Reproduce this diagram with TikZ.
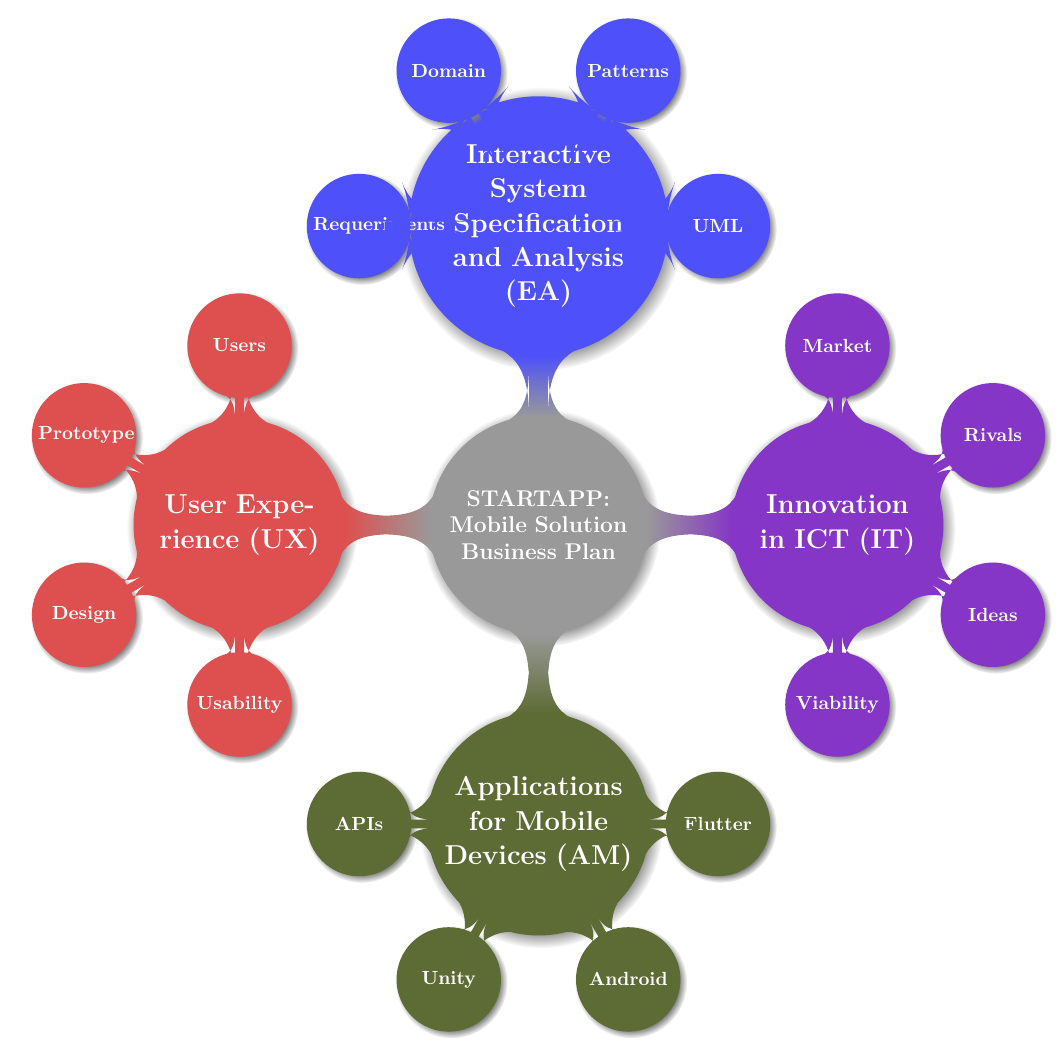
\documentclass[tikz,border=0pt]{standalone}
\usetikzlibrary{mindmap, shadows}
\definecolor{rootgray}{RGB}{153,153,153}
\definecolor{eablue}{RGB}{78,80,250}
\definecolor{itviolet}{RGB}{133,54,198}
\definecolor{amolive}{RGB}{93,107,52}
\definecolor{uxred}{RGB}{222,79,79}

\begin{document}
\begin{tikzpicture}[
    mindmap, text=white,
    % concept styles
    concept/.append style={circular drop shadow},
    root concept/.append style={
        concept color=rootgray, minimum size=4cm, text width=3.5cm,
        inner sep=0pt, font=\large\bfseries
    },
    level 1 concept/.append style={
        level distance=5.53cm, sibling angle=90, minimum size=3.88cm,
        text width=3.7cm, inner sep=0pt, font=\Large\bfseries
    },
    level 2 concept/.append style={
        level distance=3.32cm, sibling angle=60, minimum size=1.89cm,
        text width=1.7cm, inner sep=0pt, font=\normalsize\bfseries
    }
]
    \useasboundingbox (-9.961,-9.730) rectangle (9.721,9.712);

    \path[concept color=rootgray]
        node[concept, root concept] (root) {STARTAPP: Mobile Solution Business Plan}
        [clockwise from=90]
        % --- EA (top) ---
        child[concept color=eablue] {
            node[concept] (ea) {Interactive\\ System\\ Specification\\ and Analysis\\ (EA)}
            [clockwise from=180]
            child { node[concept] (ea_req) {Requeriments} }
            child { node[concept] (ea_dom) {Domain} }
            child { node[concept] (ea_pat) {Patterns} }
            child { node[concept] (ea_uml) {UML} }
        }
        % --- IT (right) ---
        child[concept color=itviolet] {
            node[concept] (it) {Innovation in ICT (IT)}
            [clockwise from=90]
            child { node[concept] (it_mkt) {Market} }
            child { node[concept] (it_riv) {Rivals} }
            child { node[concept] (it_ide) {Ideas} }
            child { node[concept] (it_via) {Viability} }
        }
        % --- AM (bottom) ---
        child[concept color=amolive] {
            node[concept] (am) {Applications for Mobile Devices (AM)}
            [counterclockwise from=180]
            child { node[concept] (am_api) {APIs} }
            child { node[concept] (am_uni) {Unity} }
            child { node[concept] (am_and) {Android} }
            child { node[concept] (am_flu) {Flutter} }
        }
        % --- UX (left) ---
        child[concept color=uxred] {
            node[concept] (ux) {User Experience (UX)}
            [counterclockwise from=90]
            child { node[concept] (ux_usr) {Users} }
            child { node[concept] (ux_pro) {Prototype} }
            child { node[concept] (ux_des) {Design} }
            child { node[concept] (ux_usa) {Usability} }
        };
\end{tikzpicture}
\end{document}
